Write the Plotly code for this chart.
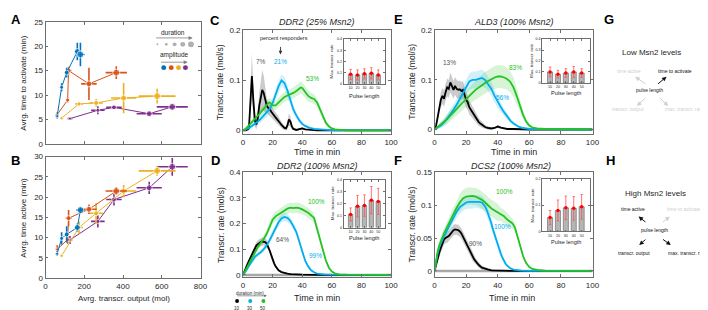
import plotly.graph_objects as go

W, H = 708, 310
FONT = "Liberation Sans, Arial, sans-serif"
TXT = "#262626"
AXC = "#6e6e6e"

# ---------------- data: panels A & B ----------------
durations = [10, 20, 30, 40, 50]
amp_colors = ["#0072BD", "#D95319", "#EDB120", "#7E2F8E"]

out_blue = [60, 83, 109, 164, 180]
out_blue_err = [8, 6, 8, 12, 22]
act_blue = [5.7, 11.6, 14.6, 18.9, 18.3]
act_blue_err = [0.5, 0.8, 1.0, 1.8, 2.4]
active_blue = [6.0, 9.8, 10.8, 12.5, 16.8]
active_blue_err = [0.5, 1.5, 2.0, 1.0, 0.6]

out_orange = [60, 114, 119, 224, 365]
out_orange_err = [8, 8, 15, 40, 55]
act_orange = [6.0, 9.0, 15.0, 12.3, 14.6]
act_orange_err = [0.5, 0.5, 0.8, 3.3, 1.3]
active_orange = [7.1, 9.5, 14.8, 17.0, 21.5]
active_orange_err = [1.0, 1.0, 2.0, 1.2, 1.0]

out_yellow = [83, 173, 261, 403, 576]
out_yellow_err = [8, 20, 35, 65, 95]
act_yellow = [5.3, 8.2, 8.4, 9.4, 9.8]
act_yellow_err = [0.3, 0.4, 0.8, 3.1, 1.5]
active_yellow = [5.5, 12.5, 16.0, 21.5, 26.5]
active_yellow_err = [0.3, 1.5, 2.5, 1.5, 1.2]

out_purple = [126, 270, 353, 535, 654]
out_purple_err = [12, 35, 40, 65, 80]
act_purple = [5.2, 6.9, 7.5, 6.2, 7.6]
act_purple_err = [0.3, 0.8, 0.3, 0.4, 0.5]
active_purple = [9.4, 14.0, 19.4, 22.3, 27.5]
active_purple_err = [1.0, 1.5, 1.5, 1.5, 2.2]

# ---------------- data: panel C (DDR2 25% Msn2) ----------------
t_c_k = [0,2,4,5,6,7,8,9,10,11,12,13,14,15,16,17,18,19,20,21,22,23,24,25,26,27,28,29,30,31,32,33,34,36,38,40,42,45,50,60,100]
y_c_k = [0,0,0.004,0.05,0.109,0.06,0.02,0.012,0.025,0.05,0.07,0.081,0.075,0.06,0.05,0.045,0.043,0.038,0.035,0.03,0.026,0.023,0.02,0.015,0.011,0.007,0.005,0.004,0.01,0.022,0.018,0.008,0.003,0.001,0.003,0.004,0.002,0.001,0,0,0]
s_c_k = [0,0.001,0.004,0.02,0.045,0.03,0.012,0.01,0.015,0.025,0.035,0.04,0.035,0.025,0.015,0.013,0.012,0.011,0.01,0.01,0.009,0.008,0.008,0.007,0.006,0.005,0.004,0.004,0.008,0.012,0.01,0.006,0.003,0.002,0.002,0.003,0.002,0.001,0,0,0]
t_c_b = [0,2,4,6,8,10,12,14,16,18,20,22,24,26,28,30,32,34,36,38,40,42,45,48,52,56,62,100]
y_c_b = [0,0.002,0.005,0.009,0.013,0.018,0.023,0.029,0.035,0.043,0.055,0.072,0.088,0.1,0.095,0.08,0.06,0.042,0.03,0.02,0.013,0.009,0.005,0.003,0.002,0.001,0,0]
s_c_b = [0,0.002,0.003,0.004,0.005,0.006,0.007,0.008,0.008,0.009,0.01,0.011,0.012,0.012,0.012,0.011,0.01,0.008,0.006,0.005,0.004,0.003,0.002,0.002,0.001,0.001,0,0]
t_c_g = [0,2,4,6,8,10,12,14,16,17,18,19,20,22,24,26,28,30,32,34,36,38,39,40,42,44,46,48,50,52,54,56,58,60,62,65,70,100]
y_c_g = [0,0.004,0.01,0.016,0.022,0.029,0.036,0.043,0.05,0.055,0.056,0.052,0.05,0.05,0.056,0.062,0.067,0.07,0.072,0.075,0.079,0.084,0.086,0.085,0.077,0.069,0.065,0.063,0.056,0.042,0.028,0.015,0.008,0.004,0.002,0.001,0,0]
s_c_g = [0,0.003,0.004,0.005,0.006,0.007,0.008,0.008,0.009,0.009,0.009,0.009,0.009,0.009,0.01,0.01,0.01,0.01,0.011,0.011,0.012,0.012,0.012,0.012,0.012,0.011,0.01,0.01,0.009,0.008,0.007,0.005,0.004,0.003,0.002,0.001,0,0]

# ---------------- data: panel D (DDR2 100% Msn2) ----------------
t_d_k = [0,1,2,3,4,5,6,7,8,9,10,11,12,13,14,15,16,17,18,19,20,21,22,23,24,26,28,30,32,35,40,50,100]
y_d_k = [0,0.012,0.028,0.042,0.055,0.067,0.079,0.092,0.104,0.114,0.12,0.125,0.128,0.13,0.13,0.128,0.122,0.11,0.095,0.078,0.06,0.045,0.034,0.025,0.018,0.011,0.007,0.005,0.003,0.002,0.001,0,0]
s_d_k = [0,0.004,0.006,0.008,0.009,0.01,0.011,0.012,0.013,0.014,0.015,0.015,0.015,0.015,0.015,0.015,0.014,0.013,0.012,0.011,0.01,0.008,0.006,0.005,0.004,0.003,0.002,0.002,0.001,0.001,0.001,0,0]
t_d_b = [0,2,4,6,8,10,12,14,16,18,20,22,24,26,28,30,32,34,36,38,40,42,44,46,48,50,55,60,100]
y_d_b = [0,0.015,0.035,0.055,0.07,0.08,0.088,0.1,0.115,0.135,0.16,0.185,0.205,0.22,0.226,0.222,0.21,0.19,0.167,0.13,0.09,0.055,0.033,0.018,0.01,0.005,0.002,0.001,0]
s_d_b = [0,0.005,0.007,0.008,0.009,0.01,0.01,0.011,0.012,0.013,0.014,0.015,0.016,0.016,0.016,0.016,0.015,0.014,0.013,0.012,0.01,0.008,0.006,0.004,0.003,0.002,0.001,0,0]
t_d_g = [0,2,4,6,8,10,12,14,16,18,20,22,24,26,28,30,32,34,36,38,40,42,44,46,48,50,52,54,56,58,60,62,65,70,100]
y_d_g = [0,0.022,0.048,0.068,0.09,0.108,0.125,0.14,0.16,0.19,0.215,0.228,0.235,0.242,0.252,0.258,0.262,0.26,0.262,0.26,0.255,0.25,0.242,0.232,0.222,0.18,0.14,0.095,0.055,0.028,0.013,0.006,0.002,0.001,0]
s_d_g = [0,0.006,0.008,0.01,0.012,0.013,0.014,0.015,0.016,0.017,0.018,0.019,0.02,0.02,0.02,0.02,0.02,0.02,0.02,0.02,0.02,0.02,0.02,0.019,0.018,0.016,0.013,0.01,0.007,0.005,0.003,0.002,0.001,0,0]

# ---------------- data: panel E (ALD3 100% Msn2) ----------------
t_e_k = [0,1,2,3,4,5,6,7,8,9,10,11,12,13,14,15,16,17,18,19,20,21,22,23,24,25,26,27,28,29,30,32,34,36,38,40,42,44,46,50,60,100]
y_e_k = [0,0.008,0.025,0.045,0.06,0.068,0.062,0.075,0.085,0.082,0.095,0.088,0.08,0.088,0.082,0.08,0.081,0.078,0.08,0.07,0.06,0.055,0.045,0.04,0.035,0.028,0.025,0.02,0.015,0.012,0.01,0.005,0.003,0.002,0.003,0.006,0.004,0.002,0.001,0.001,0,0]
s_e_k = [0,0.004,0.008,0.012,0.015,0.016,0.016,0.017,0.018,0.018,0.02,0.019,0.018,0.018,0.018,0.018,0.018,0.018,0.018,0.017,0.016,0.015,0.014,0.013,0.012,0.011,0.01,0.009,0.008,0.007,0.006,0.004,0.003,0.002,0.002,0.003,0.002,0.001,0.001,0,0,0]
t_e_b = [0,2,4,6,8,10,12,14,16,18,20,22,24,26,28,30,32,34,36,38,40,42,44,46,48,50,53,56,60,100]
y_e_b = [0,0.004,0.008,0.014,0.022,0.03,0.04,0.05,0.062,0.075,0.088,0.097,0.1,0.1,0.102,0.104,0.1,0.092,0.082,0.068,0.055,0.045,0.035,0.026,0.018,0.012,0.006,0.003,0.001,0]
s_e_b = [0,0.003,0.005,0.007,0.009,0.01,0.011,0.012,0.013,0.014,0.015,0.016,0.017,0.017,0.017,0.017,0.016,0.015,0.014,0.013,0.012,0.01,0.008,0.007,0.005,0.004,0.003,0.002,0.001,0]
t_e_g = [0,2,4,6,8,10,12,14,16,18,20,22,24,26,28,30,32,34,36,38,40,42,44,46,48,50,52,54,56,58,60,62,65,70,100]
y_e_g = [0,0.005,0.01,0.015,0.021,0.028,0.034,0.041,0.048,0.055,0.062,0.068,0.074,0.08,0.085,0.09,0.094,0.098,0.102,0.105,0.107,0.107,0.105,0.102,0.096,0.085,0.068,0.048,0.03,0.016,0.008,0.004,0.002,0.001,0]
s_e_g = [0,0.004,0.006,0.008,0.01,0.011,0.012,0.013,0.014,0.015,0.016,0.017,0.018,0.019,0.02,0.021,0.022,0.022,0.023,0.023,0.023,0.023,0.023,0.022,0.021,0.02,0.017,0.013,0.009,0.006,0.004,0.002,0.001,0,0]

# ---------------- data: panel F (DCS2 100% Msn2) ----------------
t_f_k = [0,1,2,3,4,5,6,7,8,9,10,11,12,13,14,15,16,17,18,19,20,21,22,23,24,25,26,27,28,30,32,34,36,40,50,100]
y_f_k = [0,0.01,0.02,0.028,0.035,0.042,0.048,0.05,0.051,0.053,0.056,0.059,0.062,0.063,0.063,0.062,0.06,0.057,0.052,0.047,0.042,0.037,0.032,0.027,0.022,0.018,0.015,0.012,0.009,0.005,0.003,0.002,0.001,0.0005,0,0]
s_f_k = [0,0.003,0.005,0.006,0.007,0.008,0.008,0.008,0.008,0.008,0.008,0.008,0.008,0.008,0.008,0.008,0.008,0.008,0.008,0.008,0.008,0.007,0.007,0.006,0.006,0.005,0.005,0.004,0.004,0.003,0.003,0.002,0.002,0.001,0,0]
t_f_b = [0,1,2,3,4,5,6,8,10,12,14,16,18,20,22,24,26,28,30,32,33,34,35,36,37,38,39,40,41,42,43,44,45,46,48,50,52,55,60,100]
y_f_b = [0,0.015,0.027,0.036,0.042,0.048,0.053,0.062,0.072,0.082,0.09,0.097,0.101,0.104,0.105,0.105,0.106,0.105,0.104,0.098,0.093,0.087,0.08,0.072,0.063,0.055,0.047,0.039,0.032,0.026,0.02,0.015,0.011,0.008,0.004,0.002,0.001,0.0005,0,0]
s_f_b = [0,0.004,0.005,0.006,0.006,0.007,0.007,0.008,0.008,0.009,0.009,0.01,0.01,0.01,0.01,0.01,0.01,0.01,0.01,0.01,0.009,0.009,0.008,0.008,0.007,0.007,0.006,0.005,0.005,0.004,0.004,0.003,0.003,0.002,0.002,0.001,0.001,0,0,0]
t_f_g = [0,1,2,3,4,5,6,8,10,12,14,16,18,20,22,24,26,28,30,32,34,36,38,40,42,44,46,48,49,50,51,52,53,54,55,56,57,58,60,62,65,70,100]
y_f_g = [0,0.017,0.03,0.039,0.046,0.052,0.057,0.067,0.077,0.087,0.096,0.104,0.11,0.113,0.114,0.114,0.113,0.111,0.108,0.104,0.099,0.095,0.092,0.089,0.086,0.083,0.078,0.075,0.073,0.07,0.065,0.057,0.048,0.039,0.03,0.023,0.017,0.012,0.006,0.003,0.0015,0.0005,0]
s_f_g = [0,0.004,0.005,0.006,0.007,0.008,0.008,0.009,0.009,0.01,0.01,0.013,0.013,0.013,0.013,0.013,0.013,0.013,0.013,0.013,0.013,0.013,0.013,0.013,0.01,0.01,0.01,0.009,0.008,0.007,0.006,0.005,0.004,0.004,0.003,0.003,0.002,0.002,0.001,0.001,0,0,0]

# ---------------- data: insets (max. transcr. rate vs pulse length) ----------------
pulse_len = [10, 20, 30, 40, 50]
max_c = [0.085, 0.08, 0.09, 0.095, 0.08]
max_c_err = [0.045, 0.045, 0.045, 0.05, 0.045]
max_d = [0.11, 0.18, 0.185, 0.23, 0.22]
max_d_err = [0.055, 0.09, 0.09, 0.115, 0.11]
max_e = [0.1, 0.08, 0.09, 0.1, 0.09]
max_e_err = [0.045, 0.035, 0.04, 0.05, 0.04]
max_f = [0.053, 0.08, 0.09, 0.088, 0.094]
max_f_err = [0.027, 0.04, 0.045, 0.045, 0.047]

# percent responders labels: (x, y, text)
resp_c = [(12.2, 0.137, "7%"), (25.5, 0.137, "21%"), (47, 0.104, "53%")]
resp_d = [(26.4, 0.137, "64%"), (48.7, 0.077, "99%"), (49.3, 0.286, "100%")]
resp_e = [(9.4, 0.136, "13%"), (43, 0.065, "56%"), (51, 0.125, "83%")]
resp_f = [(26, 0.042, "90%"), (43.3, 0.068, "100%"), (44, 0.12, "100%")]

# ---------------- helpers ----------------
BLACK, BLUE, GREEN = "#000000", "#00AEEF", "#22C322"
BAND = {BLACK: "rgba(140,140,140,0.45)", BLUE: "rgba(0,174,239,0.18)", GREEN: "rgba(34,195,34,0.18)"}
RESP_COL = ["#555555", BLUE, GREEN]


def px(x):
    return x / W


def py(y):
    return 1 - y / H


layout = dict(width=W, height=H, margin=dict(l=0, r=0, t=0, b=0),
              paper_bgcolor="white", plot_bgcolor="white", showlegend=False,
              font=dict(family=FONT, color=TXT))


def add_axes(i, xl, xr_, yt, yb, xrange, yrange, xt, yt_vals, small=False, showx=True):
    sfx = "" if i == 1 else str(i)
    base = dict(showline=True, linecolor=AXC, linewidth=0.8, mirror="ticks", ticks="inside",
                ticklen=2 if small else 3, tickwidth=0.7, tickcolor=AXC, showgrid=False,
                zeroline=False, fixedrange=True,
                tickfont=dict(family=FONT, size=3.6 if small else 8, color=TXT))
    layout["xaxis" + sfx] = dict(base, domain=[xl / W, xr_ / W], range=xrange, tickvals=xt,
                                 showticklabels=showx, anchor="y" + sfx)
    layout["yaxis" + sfx] = dict(base, domain=[1 - yb / H, 1 - yt / H], range=yrange,
                                 tickvals=yt_vals, anchor="x" + sfx)


add_axes(1, 36, 193, 10, 136, [0, 800], [0, 25], [0, 200, 400, 600, 800], [0, 5, 10, 15, 20, 25], showx=False)
add_axes(2, 36, 193, 149, 274, [0, 800], [0, 30], [0, 200, 400, 600, 800], [0, 5, 10, 15, 20, 25, 30])
tx = [0, 20, 40, 60, 80, 100]
add_axes(3, 236, 386, 19, 126, [0, 100], [-0.0078, 0.2], tx, [0, 0.1, 0.2])
add_axes(4, 236, 386, 165, 273, [0, 100], [-0.0085, 0.4], tx, [0, 0.1, 0.2, 0.3, 0.4])
add_axes(5, 430, 590, 19, 126, [0, 100], [-0.0098, 0.2], tx, [0, 0.1, 0.2])
add_axes(6, 430, 590, 165, 273, [0, 100], [-0.0093, 0.15], tx, [0, 0.05, 0.1, 0.15])
add_axes(7, 338, 380, 28, 74, [0, 60], [0, 0.4], pulse_len, [0, 0.1, 0.2, 0.3, 0.4], small=True)
add_axes(8, 338, 380, 173, 222, [0, 60], [0, 0.4], pulse_len, [0, 0.1, 0.2, 0.3, 0.4], small=True)
add_axes(9, 539, 587, 28, 73, [0, 60], [0, 0.4], pulse_len, [0, 0.1, 0.2, 0.3, 0.4], small=True)
add_axes(10, 539, 587, 172, 226, [0, 60], [0, 0.2], pulse_len, [0, 0.1, 0.2], small=True)

traces = []


def ax_ids(i):
    return ("x", "y") if i == 1 else ("x%d" % i, "y%d" % i)


# ---- A & B ----
marker_sizes = [3, 4, 5, 6, 7]
series = [
    (out_purple, out_purple_err, act_purple, act_purple_err, active_purple, active_purple_err, amp_colors[3]),
    (out_yellow, out_yellow_err, act_yellow, act_yellow_err, active_yellow, active_yellow_err, amp_colors[2]),
    (out_orange, out_orange_err, act_orange, act_orange_err, active_orange, active_orange_err, amp_colors[1]),
    (out_blue, out_blue_err, act_blue, act_blue_err, active_blue, active_blue_err, amp_colors[0]),
]
for xs, xe, ya, yae, yb, ybe, col in series:
    for i, yy, ye in ((1, ya, yae), (2, yb, ybe)):
        xa, ya_ = ax_ids(i)
        traces.append(go.Scatter(
            x=xs, y=yy, mode="lines+markers", xaxis=xa, yaxis=ya_,
            line=dict(color=col, width=1), marker=dict(size=marker_sizes, color=col),
            error_x=dict(type="data", array=xe, color=col, thickness=1.6, width=0),
            error_y=dict(type="data", array=ye, color=col, thickness=1.6, width=0),
            hoverinfo="skip"))

# ---- C-F time courses ----
panels = [
    (3, [(t_c_k, y_c_k, s_c_k, BLACK), (t_c_b, y_c_b, s_c_b, BLUE), (t_c_g, y_c_g, s_c_g, GREEN)], False, resp_c),
    (4, [(t_d_k, y_d_k, s_d_k, BLACK), (t_d_b, y_d_b, s_d_b, BLUE), (t_d_g, y_d_g, s_d_g, GREEN)], True, resp_d),
    (5, [(t_e_k, y_e_k, s_e_k, BLACK), (t_e_b, y_e_b, s_e_b, BLUE), (t_e_g, y_e_g, s_e_g, GREEN)], False, resp_e),
    (6, [(t_f_k, y_f_k, s_f_k, BLACK), (t_f_b, y_f_b, s_f_b, BLUE), (t_f_g, y_f_g, s_f_g, GREEN)], True, resp_f),
]
annotations = []
for i, curves, baseline, resp in panels:
    xa, ya_ = ax_ids(i)
    for t, y, s, col in curves:
        up = [a + b for a, b in zip(y, s)]
        lo = [a - b for a, b in zip(y, s)]
        traces.append(go.Scatter(x=t + t[::-1], y=up + lo[::-1], fill="toself", fillcolor=BAND[col],
                                 line=dict(width=0), mode="lines", xaxis=xa, yaxis=ya_, hoverinfo="skip"))
    if baseline:
        traces.append(go.Scatter(x=[0, 100], y=[0, 0], mode="lines", line=dict(color="#a8a8a8", width=2.5),
                                 xaxis=xa, yaxis=ya_, hoverinfo="skip"))
    for t, y, s, col in curves:
        traces.append(go.Scatter(x=t, y=y, mode="lines", line=dict(color=col, width=1.8),
                                 xaxis=xa, yaxis=ya_, hoverinfo="skip"))
    for (x, y, s), col in zip(resp, RESP_COL):
        annotations.append(dict(x=x, y=y, xref=xa, yref=ya_, text=s, showarrow=False,
                                font=dict(family=FONT, size=6.5, color=col)))

# ---- insets ----
for i, m, e in ((7, max_c, max_c_err), (8, max_d, max_d_err), (9, max_e, max_e_err), (10, max_f, max_f_err)):
    xa, ya_ = ax_ids(i)
    traces.append(go.Bar(x=pulse_len, y=m, width=6.5, xaxis=xa, yaxis=ya_,
                         marker=dict(color="#b5b5b5", line=dict(color="#4d4d4d", width=0.5)), hoverinfo="skip"))
    traces.append(go.Scatter(x=pulse_len, y=m, mode="markers", xaxis=xa, yaxis=ya_,
                             marker=dict(color="#ff0000", size=3.5),
                             error_y=dict(type="data", array=e, color="#ff5050", thickness=0.8, width=1.2),
                             hoverinfo="skip"))


# ---- text ----
def txt(x, y, s, size=8, color=TXT, angle=0, xanchor="center"):
    annotations.append(dict(x=px(x), y=py(y), xref="paper", yref="paper", text=s, showarrow=False,
                            textangle=angle, xanchor=xanchor, yanchor="middle",
                            font=dict(family=FONT, size=size, color=color)))


def arrow(x0, y0, x1, y1, color="#222222", width=1.0, size=0.9):
    annotations.append(dict(x=px(x1), y=py(y1), xref="paper", yref="paper", ax=x0 - x1, ay=y0 - y1,
                            axref="pixel", ayref="pixel", text="", showarrow=True, arrowhead=2,
                            arrowsize=size, arrowwidth=width, arrowcolor=color))


for lab, x, y in (("A", 6, 8), ("B", 6, 153), ("C", 208, 9), ("D", 208, 153), ("E", 393, 8),
                  ("F", 393, 153), ("G", 607, 8), ("H", 608, 153)):
    txt(x, y, "<b>%s</b>" % lab, size=13, color="#000000")

txt(14, 73, "Avrg. time to activate (min)", size=8, angle=-90)
txt(14, 212, "Avrg. time active (min)", size=8, angle=-90)
txt(115, 295, "Avrg. transcr. output (mol)", size=8)

txt(311, 10, "<i>DDR2 (25% Msn2)</i>", size=9)
txt(311, 159, "<i>DDR2 (100% Msn2)</i>", size=9)
txt(510, 10, "<i>ALD3 (100% Msn2)</i>", size=9)
txt(507, 159, "<i>DCS2 (100% Msn2)</i>", size=9)
for x, y in ((213, 72), (213, 219), (407, 72), (407, 219)):
    txt(x, y, "Transcr. rate (mol/s)", size=8.5, angle=-90)
for x, y in ((311, 144), (311, 295), (510, 144), (508, 295)):
    txt(x, y, "Time in min", size=9)

for x, y in ((326, 51), (326, 197), (528, 50), (529, 199)):
    txt(x, y, "Max. transcr. rate", size=4.4, angle=-90)
for x, y in ((359, 86), (359, 233), (563, 83), (563, 237)):
    txt(x, y, "Pulse length", size=5.5)

# percent responders pointer in C
annotations.append(dict(x=28, y=0.184, xref="x3", yref="y3", text="percent responders", showarrow=False,
                        font=dict(family=FONT, size=5.5, color=TXT)))
annotations.append(dict(x=25.3, y=0.152, xref="x3", yref="y3", ax=0, ay=-9, axref="pixel", ayref="pixel",
                        text="", showarrow=True, arrowhead=2, arrowsize=0.8, arrowwidth=0.9, arrowcolor="#333333"))

# legend of A
shapes = []


def dot(cx, cy, d, color):
    shapes.append(dict(type="circle", xref="paper", yref="paper", x0=px(cx - d / 2), x1=px(cx + d / 2),
                       y0=py(cy + d / 2), y1=py(cy - d / 2), fillcolor=color, line=dict(width=0)))


txt(165, 21, "duration", size=6.5)
arrow(147, 26.7, 185, 26.7, color="#808080", width=0.8, size=1)
for cx, d in zip([149.3, 158.3, 166.7, 175, 183.3], [2, 3, 4, 5, 6]):
    dot(cx, 33.3, d, "#b0b0b0")
txt(166.7, 44.3, "amplitude", size=6.5)
arrow(151.7, 51.7, 180, 51.7, color="#808080", width=0.8, size=1)
for cx, col in zip([155.7, 163.3, 170.7, 177.7], amp_colors):
    dot(cx, 57.3, 5, col)

# duration legend under D
txt(243.3, 289.5, "duration (min)", size=4.5)
arrow(229, 292.3, 260, 292.3, color="#555555", width=0.6, size=0.8)
for cx, col, lab in zip([230, 243.3, 256.7], [BLACK, BLUE, GREEN], ["10", "30", "50"]):
    dot(cx, 297.7, 4, col)
    txt(cx, 305.3, lab, size=4.5)

# G / H schematics
GRAY = "#cfcfcf"
txt(650, 42, "Low Msn2 levels", size=8)
txt(627, 61, "time active", size=5, color=GRAY)
txt(674, 61, "time to activate", size=5, color="#111111")
txt(648, 80, "pulse length", size=5, color="#111111")
txt(626, 100, "transcr. output", size=5, color=GRAY)
txt(683, 100, "max. transcr. rate", size=5, color=GRAY)
arrow(655, 75, 665, 66.7, color="#111111", width=1.0, size=0.9)
arrow(645, 75, 633.3, 66.7, color=GRAY, width=1.0, size=0.9)
arrow(645, 87.3, 635, 96.7, color=GRAY, width=1.0, size=0.9)
arrow(656.7, 87.3, 666.7, 96.7, color=GRAY, width=1.0, size=0.9)

txt(654, 187, "High Msn2 levels", size=8)
txt(631, 203, "time active", size=5, color="#111111")
txt(683, 203, "time to activate", size=5, color=GRAY)
txt(653, 225, "pulse length", size=5, color="#111111")
txt(632, 248, "transcr. output", size=5, color="#111111")
txt(686, 248, "max. transcr. rate", size=5, color="#111111")
arrow(645, 217.3, 636.7, 210.7, color="#111111", width=1.0, size=0.9)
arrow(660, 217.3, 668.3, 210.7, color=GRAY, width=1.0, size=0.9)
arrow(645, 233.3, 637.3, 240, color="#111111", width=1.0, size=0.9)
arrow(660, 233.3, 669.3, 240, color="#111111", width=1.0, size=0.9)

layout["annotations"] = annotations
layout["shapes"] = shapes

fig = go.Figure(data=traces, layout=layout)
fig.write_html("out.html")
